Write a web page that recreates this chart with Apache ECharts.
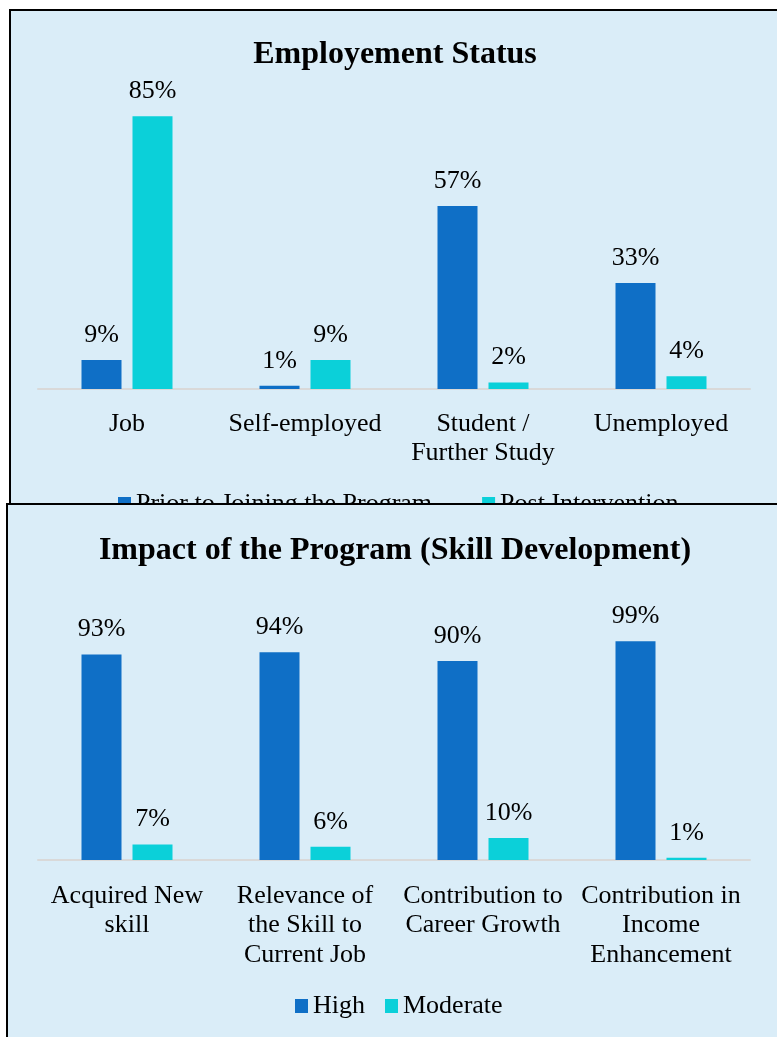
<!DOCTYPE html>
<html>
<head>
<meta charset="utf-8">
<script src="https://cdn.jsdelivr.net/npm/echarts@6/dist/echarts.min.js"></script>
<style>
  html, body { margin: 0; padding: 0; background: #ffffff; overflow: hidden; width: 777px; height: 1037px; }
  .wrap { position: absolute; box-sizing: border-box; border: 2px solid #000; overflow: hidden; background: #DAEDF8; }
  #w1 { left: 9px; top: 9px; width: 820px; height: 540px; z-index: 1; }
  #w2 { left: 6px; top: 503px; width: 820px; height: 600px; z-index: 2; }
  #c1 { position: absolute; left: -11px; top: -11px; width: 790px; height: 1037px; }
  #c2 { position: absolute; left: -8px; top: -505px; width: 790px; height: 1100px; }
</style>
</head>
<body>
<div class="wrap" id="w1"><div id="c1"></div></div>
<div class="wrap" id="w2"><div id="c2"></div></div>
<script>
// ---- Data ----
const empTitle = "Employement Status";
const empCategories = ["Job", "Self-employed", "Student /\nFurther Study", "Unemployed"];
const empSeriesNames = ["Prior to Joining the Program", "Post Intervention"];
const empPrior = [9, 1, 57, 33];
const empPost = [85, 9, 2, 4];

const skillTitle = "Impact of the Program (Skill Development)";
const skillCategories = ["Acquired New\nskill", "Relevance of\nthe Skill to\nCurrent Job", "Contribution to\nCareer Growth", "Contribution in\nIncome\nEnhancement"];
const skillSeriesNames = ["High", "Moderate"];
const skillHigh = [93, 94, 90, 99];
const skillModerate = [7, 6, 10, 1];

// ---- Styling ----
const FONT = '"Liberation Serif", "Times New Roman", serif';
const BLUE = '#0F6FC6';
const CYAN = '#0BD0D9';

function makeOption(cfg) {
  return {
    animation: false,
    textStyle: { fontFamily: FONT },
    title: {
      text: cfg.title,
      left: 'center',
      top: cfg.titleTop,
      textStyle: { fontFamily: FONT, fontWeight: 'bold', fontSize: 32, color: '#000' }
    },
    legend: {
      left: cfg.legendLeft,
      top: cfg.legendTop,
      itemWidth: 13,
      itemHeight: 14,
      itemGap: cfg.legendGap,
      icon: 'rect',
      textStyle: { fontFamily: FONT, fontSize: 26, color: '#000', padding: [0, 0, 0, 0] },
      data: cfg.names
    },
    grid: { left: 38, right: 40, top: cfg.gridTop, bottom: cfg.gridBottom, containLabel: false },
    xAxis: {
      type: 'category',
      data: cfg.categories,
      axisLine: { lineStyle: { color: '#D9D9D9', width: 2 } },
      axisTick: { show: false },
      axisLabel: { interval: 0, fontFamily: FONT, fontSize: 26, lineHeight: 29.5, color: '#000', margin: cfg.labelMargin }
    },
    yAxis: { type: 'value', min: 0, max: 100, show: false, splitLine: { show: false } },
    series: [
      {
        name: cfg.names[0], type: 'bar', data: cfg.s1, barWidth: 40, barGap: '27.5%',
        itemStyle: { color: BLUE },
        label: { show: true, position: 'top', distance: 12, formatter: '{c}%', fontFamily: FONT, fontSize: 26, color: '#000' }
      },
      {
        name: cfg.names[1], type: 'bar', data: cfg.s2, barWidth: 40, barGap: '27.5%',
        itemStyle: { color: CYAN },
        label: { show: true, position: 'top', distance: 12, formatter: '{c}%', fontFamily: FONT, fontSize: 26, color: '#000' }
      }
    ]
  };
}

const chart1 = echarts.init(document.getElementById('c1'), null, { renderer: 'canvas' });
chart1.setOption(makeOption({
  title: empTitle, titleTop: 34,
  names: empSeriesNames, legendLeft: 113, legendTop: 486, legendGap: 50,
  categories: empCategories, s1: empPrior, s2: empPost,
  gridTop: 68, gridBottom: 1037 - 389, labelMargin: 20
}));

const chart2 = echarts.init(document.getElementById('c2'), null, { renderer: 'canvas' });
chart2.setOption(makeOption({
  title: skillTitle, titleTop: 530,
  names: skillSeriesNames, legendLeft: 290, legendTop: 988, legendGap: 20,
  categories: skillCategories, s1: skillHigh, s2: skillModerate,
  gridTop: 639, gridBottom: 1100 - 860, labelMargin: 21
}));
</script>
</body>
</html>
